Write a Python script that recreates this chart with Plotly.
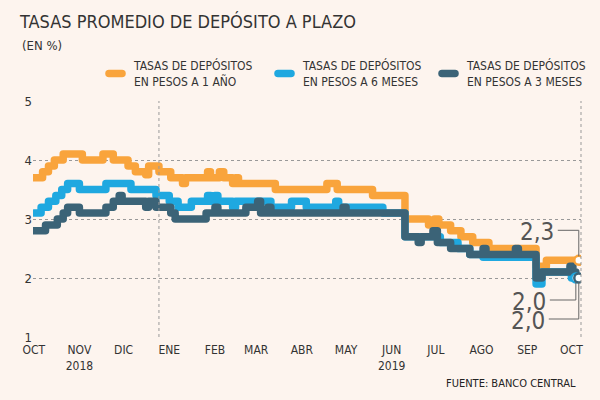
import plotly.graph_objects as go

# ---------------- data ----------------
orange_name = "TASAS DE DEPÓSITOS<br>EN PESOS A 1 AÑO"
orange_dates = ["2018-10-01", "2018-10-07", "2018-10-11", "2018-10-15", "2018-10-21",
                "2018-11-03", "2018-11-17", "2018-11-24", "2018-12-04", "2018-12-09",
                "2018-12-16", "2018-12-18", "2018-12-25", "2019-01-02", "2019-01-10",
                "2019-01-12", "2019-01-27", "2019-01-29", "2019-02-04", "2019-02-07",
                "2019-02-13", "2019-02-15", "2019-02-17", "2019-03-14", "2019-04-18",
                "2019-04-25", "2019-05-19", "2019-06-10", "2019-06-26", "2019-06-30",
                "2019-07-03", "2019-07-11", "2019-07-18", "2019-07-26", "2019-08-06",
                "2019-09-07", "2019-09-14", "2019-10-06"]
orange_vals = [3.7, 3.8, 3.9, 4.0, 4.1,
               4.0, 4.1, 4.0, 3.9, 3.8,
               3.75, 3.9, 3.8, 3.7, 3.6,
               3.7, 3.8, 3.7, 3.8, 3.7,
               3.6, 3.7, 3.6, 3.5, 3.6,
               3.5, 3.4, 3.0, 2.9, 3.0,
               2.9, 2.8, 2.7, 2.6, 2.5,
               2.2, 2.3, 2.3]

blue_name = "TASAS DE DEPÓSITOS<br>EN PESOS A 6 MESES"
blue_dates = ["2018-10-01", "2018-10-06", "2018-10-11", "2018-10-16", "2018-10-20",
              "2018-10-24", "2018-11-01", "2018-11-19", "2018-12-06", "2018-12-23",
              "2019-01-01", "2019-01-07", "2019-01-16", "2019-01-27", "2019-01-29",
              "2019-02-01", "2019-02-03", "2019-02-13", "2019-02-15", "2019-03-11",
              "2019-03-25", "2019-04-04", "2019-04-24", "2019-04-26", "2019-05-26",
              "2019-06-10", "2019-07-04", "2019-07-16", "2019-07-24", "2019-08-02",
              "2019-09-07", "2019-09-11", "2019-10-01", "2019-10-04"]
blue_vals = [3.1, 3.2, 3.3, 3.4, 3.5,
             3.6, 3.5, 3.6, 3.5, 3.4,
             3.3, 3.2, 3.3, 3.4, 3.3,
             3.4, 3.3, 3.2, 3.3, 3.2,
             3.3, 3.2, 3.3, 3.2, 3.1,
             2.7, 2.6, 2.5, 2.4, 2.35,
             1.9, 2.1, 2.0, 2.0]

dark_name = "TASAS DE DEPÓSITOS<br>EN PESOS A 3 MESES"
dark_dates = ["2018-10-01", "2018-10-09", "2018-10-17", "2018-10-21", "2018-10-24",
              "2018-11-01", "2018-11-19", "2018-11-24", "2018-11-28", "2018-11-30",
              "2018-12-16", "2018-12-18", "2018-12-23", "2019-01-02", "2019-01-05",
              "2019-01-26", "2019-02-01", "2019-02-03", "2019-02-22", "2019-03-02",
              "2019-03-04", "2019-03-09", "2019-03-11", "2019-04-29", "2019-05-01",
              "2019-06-10", "2019-06-19", "2019-06-21", "2019-06-29", "2019-07-02",
              "2019-07-11", "2019-07-24", "2019-08-02", "2019-08-04", "2019-08-24",
              "2019-08-26", "2019-09-07", "2019-09-11", "2019-09-30", "2019-10-02",
              "2019-10-04", "2019-10-06"]
dark_vals = [2.8, 2.9, 3.0, 3.1, 3.2,
             3.1, 3.2, 3.3, 3.4, 3.3,
             3.2, 3.3, 3.2, 3.1, 3.0,
             3.1, 3.2, 3.1, 3.2, 3.3,
             3.1, 3.2, 3.1, 3.2, 3.1,
             2.7, 2.6, 2.7, 2.8, 2.6,
             2.5, 2.4, 2.5, 2.4, 2.5,
             2.4, 2.0, 2.1, 2.2, 2.1,
             2.0, 2.0]

tick_dates = ["2018-10-01", "2018-11-01", "2018-12-01", "2019-01-01", "2019-02-01",
              "2019-03-01", "2019-04-01", "2019-05-01", "2019-06-01", "2019-07-01",
              "2019-08-01", "2019-09-01", "2019-10-01"]
tick_labels = ["OCT", "NOV<br>2018", "DIC", "ENE", "FEB", "MAR", "ABR", "MAY",
               "JUN<br>2019", "JUL", "AGO", "SEP", "OCT"]
y_ticks = [1, 2, 3, 4, 5]

title_text = "TASAS PROMEDIO DE DEPÓSITO A PLAZO"
subtitle_text = "(EN %)"
source_text = "FUENTE: BANCO CENTRAL"

# ---------------- style ----------------
ORANGE = "#F9A43C"
BLUE = "#1FA8E0"
DARK = "#3B6377"
BG = "#FDF4EE"
TXT = "#333333"
FONT = "Liberation Sans Narrow, DejaVu Sans Condensed, Roboto Condensed, Roboto, sans-serif"

fig = go.Figure()
series = [
    (orange_name, orange_dates, orange_vals, ORANGE, "legend"),
    (blue_name, blue_dates, blue_vals, BLUE, "legend2"),
    (dark_name, dark_dates, dark_vals, DARK, "legend3"),
]
for name, d, v, c, lg in series:
    fig.add_trace(go.Scatter(x=d, y=v, mode="lines", name=name, legend=lg,
                             line=dict(color=c, width=7.5, shape="hv"),
                             hoverinfo="skip"))
for name, d, v, c, lg in series:
    fig.add_trace(go.Scatter(x=[d[-1]], y=[v[-1]], mode="markers", showlegend=False,
                             marker=dict(size=9, color="white", line=dict(color=c, width=2.5)),
                             hoverinfo="skip"))

# end value labels with elbow leaders (pixel offsets from the last point)
label_specs = [
    (orange_dates, orange_vals, 30, -21),
    (blue_dates, blue_vals, -22, -26),
    (dark_dates, dark_vals, -41, -30),
]
for d, v, dy, dx in label_specs:
    start = 4 if dy > 0 else -4
    fig.add_shape(type="path", xref="x", yref="y", xsizemode="pixel", ysizemode="pixel",
                  xanchor=d[-1], yanchor=v[-1],
                  path=f"M 0,{start} L 0,{dy} L {dx},{dy}",
                  line=dict(color="#666666", width=1))
    fig.add_annotation(x=d[-1], y=v[-1], text=f"{v[-1]:.1f}".replace(".", ","),
                       showarrow=False, xanchor="right", yanchor="middle",
                       xshift=dx - 2, yshift=dy - 2,
                       font=dict(family=FONT, size=24, color="#555555"))

# year separator and right border (dotted)
fig.add_shape(type="line", xref="x", yref="paper", x0="2018-12-25", x1="2018-12-25",
              y0=0, y1=1, line=dict(color="#999999", width=1, dash="dot"))
fig.add_shape(type="line", xref="paper", yref="paper", x0=1, x1=1, y0=0, y1=1,
              line=dict(color="#999999", width=1, dash="dot"))

fig.add_annotation(xref="paper", yref="paper", x=-0.024, y=1.237, text=subtitle_text,
                   showarrow=False, xanchor="left", yanchor="middle",
                   font=dict(family=FONT, size=13, color=TXT))
fig.add_annotation(xref="paper", yref="paper", x=0.9945, y=-0.195, text=source_text,
                   showarrow=False, xanchor="right", yanchor="middle",
                   font=dict(family=FONT, size=11, color="#222222"))

legend_common = dict(orientation="h", y=1.115, xanchor="left", yanchor="middle",
                     font=dict(family=FONT, size=12, color=TXT),
                     bgcolor="rgba(0,0,0,0)")

fig.update_layout(
    width=600, height=400,
    margin=dict(l=33, r=19, t=101, b=63, autoexpand=False),
    paper_bgcolor=BG, plot_bgcolor=BG,
    font=dict(family=FONT, color=TXT, size=13),
    title=dict(text=title_text, x=20 / 600, xref="container", xanchor="left",
               y=1 - 22 / 400, yref="container", yanchor="middle",
               font=dict(family=FONT, size=18, color=TXT)),
    showlegend=True,
    legend=dict(x=0.1113, **legend_common),
    legend2=dict(x=0.4197, **legend_common),
    legend3=dict(x=0.719, **legend_common),
    xaxis=dict(type="date", range=["2018-09-30 12:00", "2019-10-07 12:00"],
               tickvals=tick_dates, ticktext=tick_labels, showgrid=False,
               zeroline=False, showline=False, ticks="", ticklabelstandoff=4,
               tickfont=dict(family=FONT, size=12, color=TXT)),
    yaxis=dict(range=[1, 5], tickvals=y_ticks, showgrid=True, gridcolor="#999999",
               griddash="dot", gridwidth=1, zeroline=False, showline=False, ticks="",
               tickfont=dict(family=FONT, size=13, color=TXT)),
)

post = """
document.querySelectorAll('.js-line').forEach(function(p){
  p.style.strokeLinejoin='round'; p.style.strokeLinecap='round';
});
document.querySelectorAll('.legendlines path').forEach(function(p){
  p.setAttribute('d','M15,0h13');
});
"""
fig.write_html("out.html", post_script=post)
